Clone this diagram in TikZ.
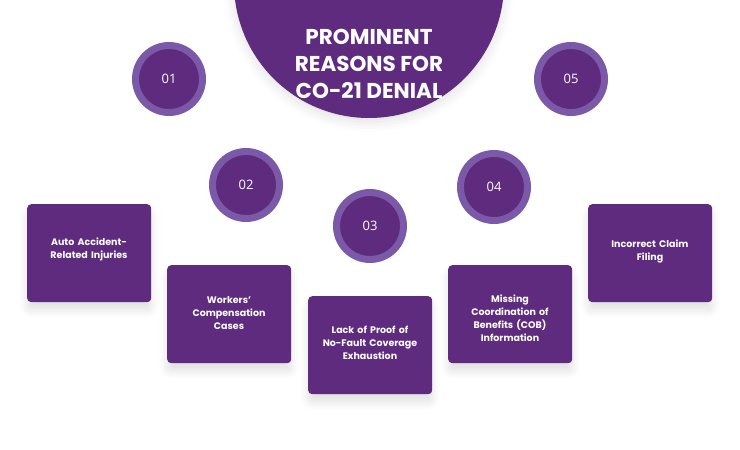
\documentclass[tikz,border=0pt]{standalone}
\usepackage{fontspec}
\setmainfont{Poppins}
\newfontfamily\numfont{Open Sans}
\usetikzlibrary{shadows.blur}
\definecolor{deeppurple}{HTML}{5E2B7E}
\definecolor{ringpurple}{HTML}{7A5AA8}
\tikzset{
  reason/.style={fill=deeppurple, rounded corners=4pt, minimum width=124pt, minimum height=98pt,
    text width=100pt, align=center, text=white, font=\fontsize{9.5}{13}\selectfont\bfseries,
    blur shadow={shadow xshift=0pt, shadow yshift=-8pt, shadow blur radius=8pt, shadow blur steps=12, shadow opacity=12}},
  numcircle/.style={circle, fill=deeppurple, draw=ringpurple, line width=7pt, minimum size=67pt,
    text=white, font=\numfont\fontsize{13}{13}\selectfont},
  caption/.style={text width=100pt, align=center, text=white, font=\fontsize{9.5}{13}\selectfont\bfseries}
}
\begin{document}
\begin{tikzpicture}[x=1pt,y=-1pt]
            \useasboundingbox (0,0) rectangle (740,450);
            \begin{scope}
            \clip (0,0) rectangle (740,450);
            \node[circle, fill=deeppurple, minimum size=270pt,
              blur shadow={shadow xshift=0pt, shadow yshift=-4pt, shadow blur radius=10pt, shadow opacity=12}] (title) at (369,-17) {};
            \end{scope}
            \node[text=white, align=center, font=\fontsize{21.5}{27}\selectfont\bfseries] (titletext) at (369,64)
              {PROMINENT\\REASONS FOR\\CO-21 DENIAL};

            \node[numcircle] (s1) at (169,79) {01};
            \node[numcircle] (s2) at (246,185) {02};
            \node[numcircle] (s3) at (370,226) {03};
            \node[numcircle] (s4) at (494,187) {04};
            \node[numcircle] (s5) at (571,79) {05};

            \node[reason, anchor=north west] (r1) at (27,204) {};
            \node[reason, anchor=north west] (r2) at (167,265) {};
            \node[reason, anchor=north west] (r3) at (308,296) {};
            \node[reason, anchor=north west] (r4) at (448,265) {};
            \node[reason, anchor=north west] (r5) at (588,204) {};
            \node[caption] (t1) at (89,249) {Auto Accident-\\Related Injuries};
            \node[caption] (t2) at (229,313) {Workers'\\Compensation\\Cases};
            \node[caption] (t3) at (370,343) {Lack of Proof of\\No-Fault Coverage\\Exhaustion};
            \node[caption] (t4) at (510,318) {Missing\\Coordination of\\Benefits (COB)\\Information};
            \node[caption] (t5) at (650,251) {Incorrect Claim\\Filing};
\end{tikzpicture}
\end{document}
